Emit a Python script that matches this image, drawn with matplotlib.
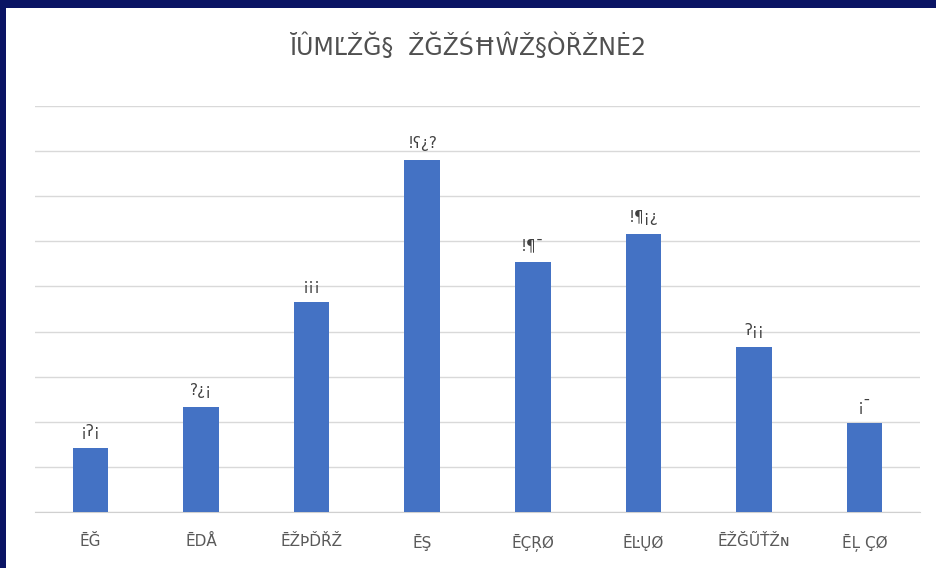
import matplotlib.pyplot as plt
import numpy as np

# datos (texto original con codificacion rota)
title = "ĬÛMĽŽĞ§  ŽĞŽŚĦŴŽ§ÒŘŽNĖ2"
categories = ["ĒĞ", "ĒDÅ", "ĒŽÞĎŘŽ", "ĒŞ", "ĒÇŖØ", "ĒĿŲØ", "ĒŽĞŨŤŽɴ", "ĒĻ ÇØ"]
values = [284, 467, 929, 1560, 1107, 1231, 733, 396]
value_labels = ["¡ʔ¡", "?¿¡", "¡¡¡", "!ʕ¿?", "!¶¯", "!¶¡¿", "ʔ¡¡", "¡¯"]

fig = plt.figure(figsize=(9.36, 5.68), dpi=100)
fig.patch.set_facecolor("#0a1464")

# fondo blanco interior con el borde azul oscuro (arriba e izquierda)
bg = fig.add_axes([6 / 936, 0, 1 - 6 / 936, 1 - 8 / 568])
bg.set_facecolor("white")
bg.set_xticks([])
bg.set_yticks([])
for s in bg.spines.values():
    s.set_visible(False)

ax = fig.add_axes([35 / 936, 1 - 512 / 568, 885 / 936, 406 / 568])
ax.set_facecolor("none")
x = np.arange(len(categories))
ax.bar(x, values, width=0.32, color="#4472C4", zorder=3)

for xi, v, lab in zip(x, values, value_labels):
    ax.text(xi, v + 40, lab, ha="center", va="bottom", fontsize=11, color="#404040")

ax.set_xlim(-0.5, len(categories) - 0.5)
ax.set_ylim(0, 1800)
ax.set_yticks(np.arange(0, 1801, 200))
ax.yaxis.grid(True, color="#d9d9d9", linewidth=1, zorder=0)
ax.tick_params(axis="y", left=False, labelleft=False)
ax.tick_params(axis="x", bottom=False, colors="#595959", labelsize=11, pad=12)
ax.set_xticks(x)
ax.set_xticklabels(categories)
for side in ["top", "right", "left"]:
    ax.spines[side].set_visible(False)
ax.spines["bottom"].set_color("#d0d0d0")

fig.text(0.5, 1 - 47 / 568, title, ha="center", va="center", fontsize=17, color="#505050")

plt.savefig("out.png", dpi=100)
plt.close()
